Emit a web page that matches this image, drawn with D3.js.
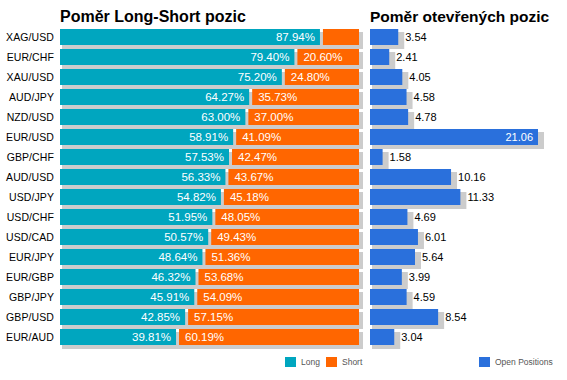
<!DOCTYPE html>
<html>
<head>
<meta charset="utf-8">
<script src="https://cdn.jsdelivr.net/npm/d3@7"></script>
<style>
  body { margin: 0; background: #fff; }
  svg { display: block; font-family: Arial, "Liberation Sans", sans-serif; }
</style>
</head>
<body>
<svg id="chart" width="567" height="380"></svg>
<script>
const pairs = ['XAG/USD', 'EUR/CHF', 'XAU/USD', 'AUD/JPY', 'NZD/USD', 'EUR/USD', 'GBP/CHF', 'AUD/USD',
  'USD/JPY', 'USD/CHF', 'USD/CAD', 'EUR/JPY', 'EUR/GBP', 'GBP/JPY', 'GBP/USD', 'EUR/AUD'];
const longPct = [87.94, 79.40, 75.20, 64.27, 63.00, 58.91, 57.53, 56.33, 54.82, 51.95, 50.57, 48.64, 46.32, 45.91, 42.85, 39.81];
const shortPct = [12.06, 20.60, 24.80, 35.73, 37.00, 41.09, 42.47, 43.67, 45.18, 48.05, 49.43, 51.36, 53.68, 54.09, 57.15, 60.19];
const openPos = [3.54, 2.41, 4.05, 4.58, 4.78, 21.06, 1.58, 10.16, 11.33, 4.69, 6.01, 5.64, 3.99, 4.59, 8.54, 3.04];

const teal = '#00a6bf', orange = '#ff6600', blue = '#2a70dc', shade = '#cccccc';

const svg = d3.select('#chart');

const rows = pairs.map((p, i) => ({ pair: p, long: longPct[i], short: shortPct[i], open: openPos[i] }));

// rows are 20px apart, bars 16px tall
const y = d3.scaleBand().domain(pairs).range([27, 347]).paddingInner(0.2).paddingOuter(0.1);
const bh = y.bandwidth();

const x = d3.scaleLinear().domain([0, 100]).range([60, 359]);
const x2 = d3.scaleLinear().domain([0, d3.max(openPos)]).range([370, 538]);

// titles
svg.append('text').attr('x', 60).attr('y', 22)
  .attr('font-size', 16).attr('font-weight', 'bold').text('Poměr Long-Short pozic');
svg.append('text').attr('x', 370).attr('y', 22)
  .attr('font-size', 15.5).attr('font-weight', 'bold').text('Poměr otevřených pozic');

// category labels
svg.append('g').selectAll('text').data(rows).join('text')
  .attr('x', 54).attr('y', d => y(d.pair) + bh / 2).attr('dy', '0.35em')
  .attr('text-anchor', 'end').attr('font-size', 10.5).attr('letter-spacing', 0.1)
  .attr('fill', '#000').text(d => d.pair);

// left panel shadows
svg.append('g').selectAll('rect').data(rows).join('rect')
  .attr('x', x(0) + 2).attr('y', d => y(d.pair) + 3)
  .attr('width', x(100) - x(0) + 2).attr('height', bh + 1)
  .attr('fill', shade);

// long bars
svg.append('g').selectAll('rect').data(rows).join('rect')
  .attr('x', x(0)).attr('y', d => y(d.pair))
  .attr('width', d => x(d.long) - x(0) - 3).attr('height', bh)
  .attr('fill', teal);

// short bars
svg.append('g').selectAll('rect').data(rows).join('rect')
  .attr('x', d => x(d.long)).attr('y', d => y(d.pair))
  .attr('width', d => x(100) - x(d.long)).attr('height', bh)
  .attr('fill', orange);

// long labels
svg.append('g').selectAll('text').data(rows).join('text')
  .attr('x', d => x(d.long) - 8).attr('y', d => y(d.pair) + bh / 2).attr('dy', '0.35em')
  .attr('text-anchor', 'end').attr('font-size', 11.5).attr('fill', '#fff')
  .text(d => d.long.toFixed(2) + '%');

// short labels (skip when too narrow)
svg.append('g').selectAll('text').data(rows.filter(d => d.short > 15)).join('text')
  .attr('x', d => x(d.long) + 6).attr('y', d => y(d.pair) + bh / 2).attr('dy', '0.35em')
  .attr('font-size', 11.5).attr('fill', '#fff')
  .text(d => d.short.toFixed(2) + '%');

// right panel shadows
svg.append('g').selectAll('rect').data(rows).join('rect')
  .attr('x', x2(0) + 2).attr('y', d => y(d.pair) + 3)
  .attr('width', d => x2(d.open) - x2(0) + 4).attr('height', bh + 1)
  .attr('fill', shade);

// open positions bars
svg.append('g').selectAll('rect').data(rows).join('rect')
  .attr('x', x2(0)).attr('y', d => y(d.pair))
  .attr('width', d => x2(d.open) - x2(0)).attr('height', bh)
  .attr('fill', blue);

// value labels
const maxOpen = d3.max(openPos);
svg.append('g').selectAll('text').data(rows).join('text')
  .attr('x', d => d.open === maxOpen ? x2(d.open) - 5 : x2(d.open) + 7)
  .attr('y', d => y(d.pair) + bh / 2).attr('dy', '0.35em')
  .attr('text-anchor', d => d.open === maxOpen ? 'end' : 'start')
  .attr('font-size', 11).attr('fill', d => d.open === maxOpen ? '#fff' : '#000')
  .text(d => d.open.toFixed(2));

// legends
const legendItems = [
  { label: 'Long', color: teal, x: 285 },
  { label: 'Short', color: orange, x: 326 },
  { label: 'Open Positions', color: blue, x: 479 }
];
const lg = svg.append('g').selectAll('g').data(legendItems).join('g')
  .attr('transform', d => `translate(${d.x},357)`);
lg.append('rect').attr('width', 11).attr('height', 10).attr('fill', d => d.color);
lg.append('text').attr('x', 16).attr('y', 5).attr('dy', '0.35em')
  .attr('font-size', 8.5).attr('fill', '#555').text(d => d.label);
</script>
</body>
</html>
